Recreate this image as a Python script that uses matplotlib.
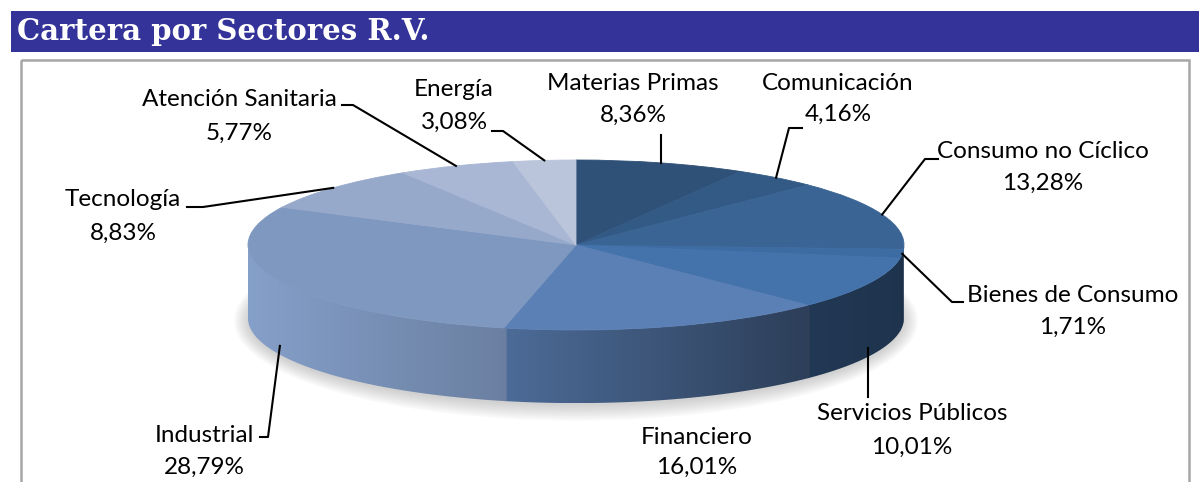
import numpy as np
import matplotlib.pyplot as plt
import matplotlib.colors as mcolors
from matplotlib.patches import Polygon, Rectangle, Ellipse

# datos de la cartera
sectores = ['Materias Primas', 'Comunicación', 'Consumo no Cíclico', 'Bienes de Consumo',
            'Servicios Públicos', 'Financiero', 'Industrial', 'Tecnología',
            'Atención Sanitaria', 'Energía']
pesos = [8.36, 4.16, 13.28, 1.71, 10.01, 16.01, 28.79, 8.83, 5.77, 3.08]
colores = ['#2f5077', '#335a85', '#3a6494', '#3d6ca3', '#4472ab', '#5b80b5',
           '#7f98c0', '#97a9cb', '#a9b7d4', '#bac5dc']

W, H = 1199, 482
CX, CY, RX, RY = 576, 245, 328, 85   # centro y radios de la elipse (pixeles)
GROSOR = 0.86                        # grosor del pastel en unidades del radio

fig = plt.figure(figsize=(W / 100, H / 100), dpi=100)
ax = fig.add_axes([0, 0, 1, 1])

# sombra difusa debajo del pastel
for k in range(8):
    ax.add_patch(Ellipse((0.0, -GROSOR - 0.03), 2.0 + 0.012 * k, 2.0 + 0.05 * k,
                         facecolor='#707070', edgecolor='none', alpha=0.045, zorder=0.3))

# cara superior
wedges, _ = ax.pie(pesos, colors=colores, startangle=90, counterclock=False, radius=1)
for w, c in zip(wedges, colores):
    w.set_edgecolor(c)
    w.set_linewidth(0.6)

# lateral visible con degradado
cum = np.concatenate([[0], np.cumsum(pesos)])
ang = 90 - 360 * cum / cum[-1]
xs = np.linspace(-1, 1, 400)
mult = np.interp(xs, [-1, -0.22, 0.68, 1], [1.05, 0.84, 0.5, 0.45])
for i, c in enumerate(colores):
    lo, hi = max(ang[i + 1], -180), min(ang[i] + 0.5, 0)
    if lo >= hi:
        continue
    t = np.radians(np.linspace(lo, hi, 120))
    arriba = np.column_stack([np.cos(t), np.sin(t)])
    abajo = arriba[::-1] - [0, GROSOR]
    poly = Polygon(np.vstack([arriba, abajo]), closed=True, facecolor='none', edgecolor='none')
    ax.add_patch(poly)
    rgb = np.array(mcolors.to_rgb(c))
    img = np.clip(rgb[None, None, :] * mult[None, :, None], 0, 1)
    im = ax.imshow(img, extent=(-1, 1, -1 - GROSOR, 0), aspect='auto', zorder=0.8,
                   interpolation='bilinear')
    im.set_clip_path(poly)

ax.set_xlim(-CX / RX, (W - CX) / RX)
ax.set_ylim((CY - H) / RY, CY / RY)
ax.set_aspect('auto')
ax.axis('off')

# capa de textos en pixeles
ax2 = fig.add_axes([0, 0, 1, 1], zorder=5)
ax2.set_xlim(0, W)
ax2.set_ylim(H, 0)
ax2.axis('off')
ax2.patch.set_alpha(0)

ax2.add_patch(Rectangle((11, 11), W - 11, 41, facecolor='#333399', edgecolor='none'))
ax2.text(17, 32, 'Cartera por Sectores R.V.', color='white', fontsize=21,
         fontweight='bold', family='DejaVu Serif', va='center', ha='left')
ax2.add_patch(Rectangle((21, 60), 1168, 460, facecolor='none', edgecolor='#a6a6a6', lw=1.8))


def punto(i, lado):
    a = np.radians((ang[i] + ang[i + 1]) / 2)
    y = np.sin(a) - (GROSOR * 0.88 if lado else 0)
    return CX + RX * np.cos(a), CY - RY * y


# posicion de cada etiqueta (x, y nombre, y porcentaje) y quiebres de la linea guia
etiquetas = {
    'Materias Primas': (633, 83, 115, [(658, 135)], False),
    'Comunicación': (838, 83, 114, [(789, 128), (802, 128)], False),
    'Consumo no Cíclico': (1043, 152, 183, [(925, 159), (938, 159)], False),
    'Bienes de Consumo': (1073, 296, 327, [(952, 302), (963, 302)], False),
    'Servicios Públicos': (912, 414, 447, [(863, 397)], True),
    'Financiero': (697, 437, 467, [], True),
    'Industrial': (204, 435, 467, [(268, 437), (260, 437)], True),
    'Tecnología': (123, 199, 233, [(203, 207), (187, 207)], False),
    'Atención Sanitaria': (239, 100, 133, [(353, 105), (342, 105)], False),
    'Energía': (454, 90, 122, [(503, 131), (492, 131)], False),
}

for i, (nombre, p) in enumerate(zip(sectores, pesos)):
    x, yn, yp, quiebres, lado = etiquetas[nombre]
    ax2.text(x, yn, nombre, fontsize=17.5, family='Lato', ha='center', va='center')
    ax2.text(x, yp, f'{p:.2f}%'.replace('.', ','), fontsize=17.5, family='Lato',
             ha='center', va='center')
    if quiebres:
        x0, y0 = punto(i, lado)
        if nombre in ('Materias Primas', 'Servicios Públicos'):
            quiebres = [(x0, quiebres[0][1])]
        px = [x0] + [q[0] for q in quiebres]
        py = [y0] + [q[1] for q in quiebres]
        ax2.plot(px, py, color='black', lw=1.5)

plt.savefig('out.png', dpi=100)
